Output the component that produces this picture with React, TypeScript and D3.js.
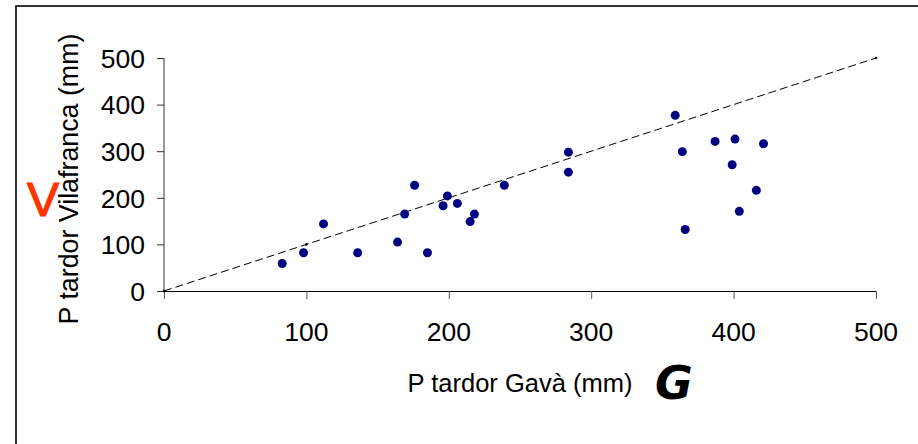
import React from "react";
import * as d3 from "d3";

// Autumn precipitation (mm): Gavà (x) vs Vilafranca (y)
const gava = [83, 98, 112, 136, 164, 169, 176, 185, 196, 199, 206, 215, 218, 239, 284, 284, 359, 364, 366, 387, 399, 401, 404, 416, 421];
const vilafranca = [59, 82, 144, 82, 105, 165, 227, 82, 183, 204, 188, 149, 165, 227, 298, 255, 377, 299, 132, 321, 271, 326, 171, 216, 316];
// 1:1 reference line
const refLine = [0, 100, 500];
const xTicks = [0, 100, 200, 300, 400, 500];
const yTicks = [0, 100, 200, 300, 400, 500];

const W = 918;
const H = 444;
const FONT = "'Liberation Sans', Arial, sans-serif";

export default function App() {
  const x = d3.scaleLinear().domain([0, 500]).range([164, 876]);
  const y = d3.scaleLinear().domain([0, 500]).range([291, 58]);

  const points = gava.map((g, i) => ({ g, v: vilafranca[i] }));
  const line = d3
    .line<number>()
    .x((d) => x(d))
    .y((d) => y(d));

  return (
    <svg
      width={W}
      height={H}
      style={{ position: "absolute", left: 0, top: 0, background: "#fff" }}
    >
      {/* outer frame */}
      <rect x={16} y={6} width={W} height={H} fill="#fff" stroke="#000" strokeWidth={1.6} />

      {/* y axis */}
      <line x1={x(0)} x2={x(0)} y1={y(500)} y2={y(0)} stroke="#333" strokeWidth={1} />
      {yTicks.map((t) => (
        <g key={"yt" + t}>
          <line x1={x(0) - 7} x2={x(0)} y1={y(t) + 0.5} y2={y(t) + 0.5} stroke="#333" strokeWidth={1} />
          <text
            x={145}
            y={y(t)}
            dy="0.37em"
            textAnchor="end"
            fontFamily={FONT}
            fontSize={26.5}
            fill="#000"
          >
            {t}
          </text>
        </g>
      ))}

      {/* x axis */}
      <line x1={x(0)} x2={x(500)} y1={y(0) + 0.5} y2={y(0) + 0.5} stroke="#000" strokeWidth={1} />
      {xTicks.map((t) => (
        <g key={"xt" + t}>
          <line x1={x(t) + 0.5} x2={x(t) + 0.5} y1={y(0)} y2={y(0) + 8} stroke="#555" strokeWidth={1} />
          <text
            x={x(t)}
            y={341}
            textAnchor="middle"
            fontFamily={FONT}
            fontSize={26.5}
            fill="#000"
          >
            {t}
          </text>
        </g>
      ))}

      {/* 1:1 line */}
      <path
        d={line(refLine) || ""}
        fill="none"
        stroke="#000"
        strokeWidth={1}
        strokeDasharray="8,4"
      />
      {refLine.map((d) => (
        <circle key={"r" + d} cx={x(d)} cy={y(d)} r={1.3} fill="#000" />
      ))}

      {/* observations */}
      {points.map((p, i) => (
        <circle key={i} cx={x(p.g)} cy={y(p.v)} r={4.5} fill="#000080" />
      ))}

      {/* axis titles */}
      <text
        x={(x(0) + x(500)) / 2}
        y={392}
        textAnchor="middle"
        fontFamily={FONT}
        fontSize={25.5}
        fill="#000"
      >
        P tardor Gavà (mm)
      </text>
      <text
        transform={`translate(78, 179) rotate(-90)`}
        textAnchor="middle"
        fontFamily={FONT}
        fontSize={26.8}
        fill="#000"
      >
        P tardor Vilafranca (mm)
      </text>

      {/* station letters */}
      <text
        x={27}
        y={216}
        fontFamily={FONT}
        fontSize={48}
        fill="#FF3300"
        stroke="#FF3300"
        strokeWidth={1.2}
      >
        V
      </text>
      <text
        x={655}
        y={399}
        fontFamily="'DejaVu Sans', sans-serif"
        fontSize={46}
        fontWeight="bold"
        fontStyle="italic"
        fill="#000"
      >
        G
      </text>
    </svg>
  );
}
